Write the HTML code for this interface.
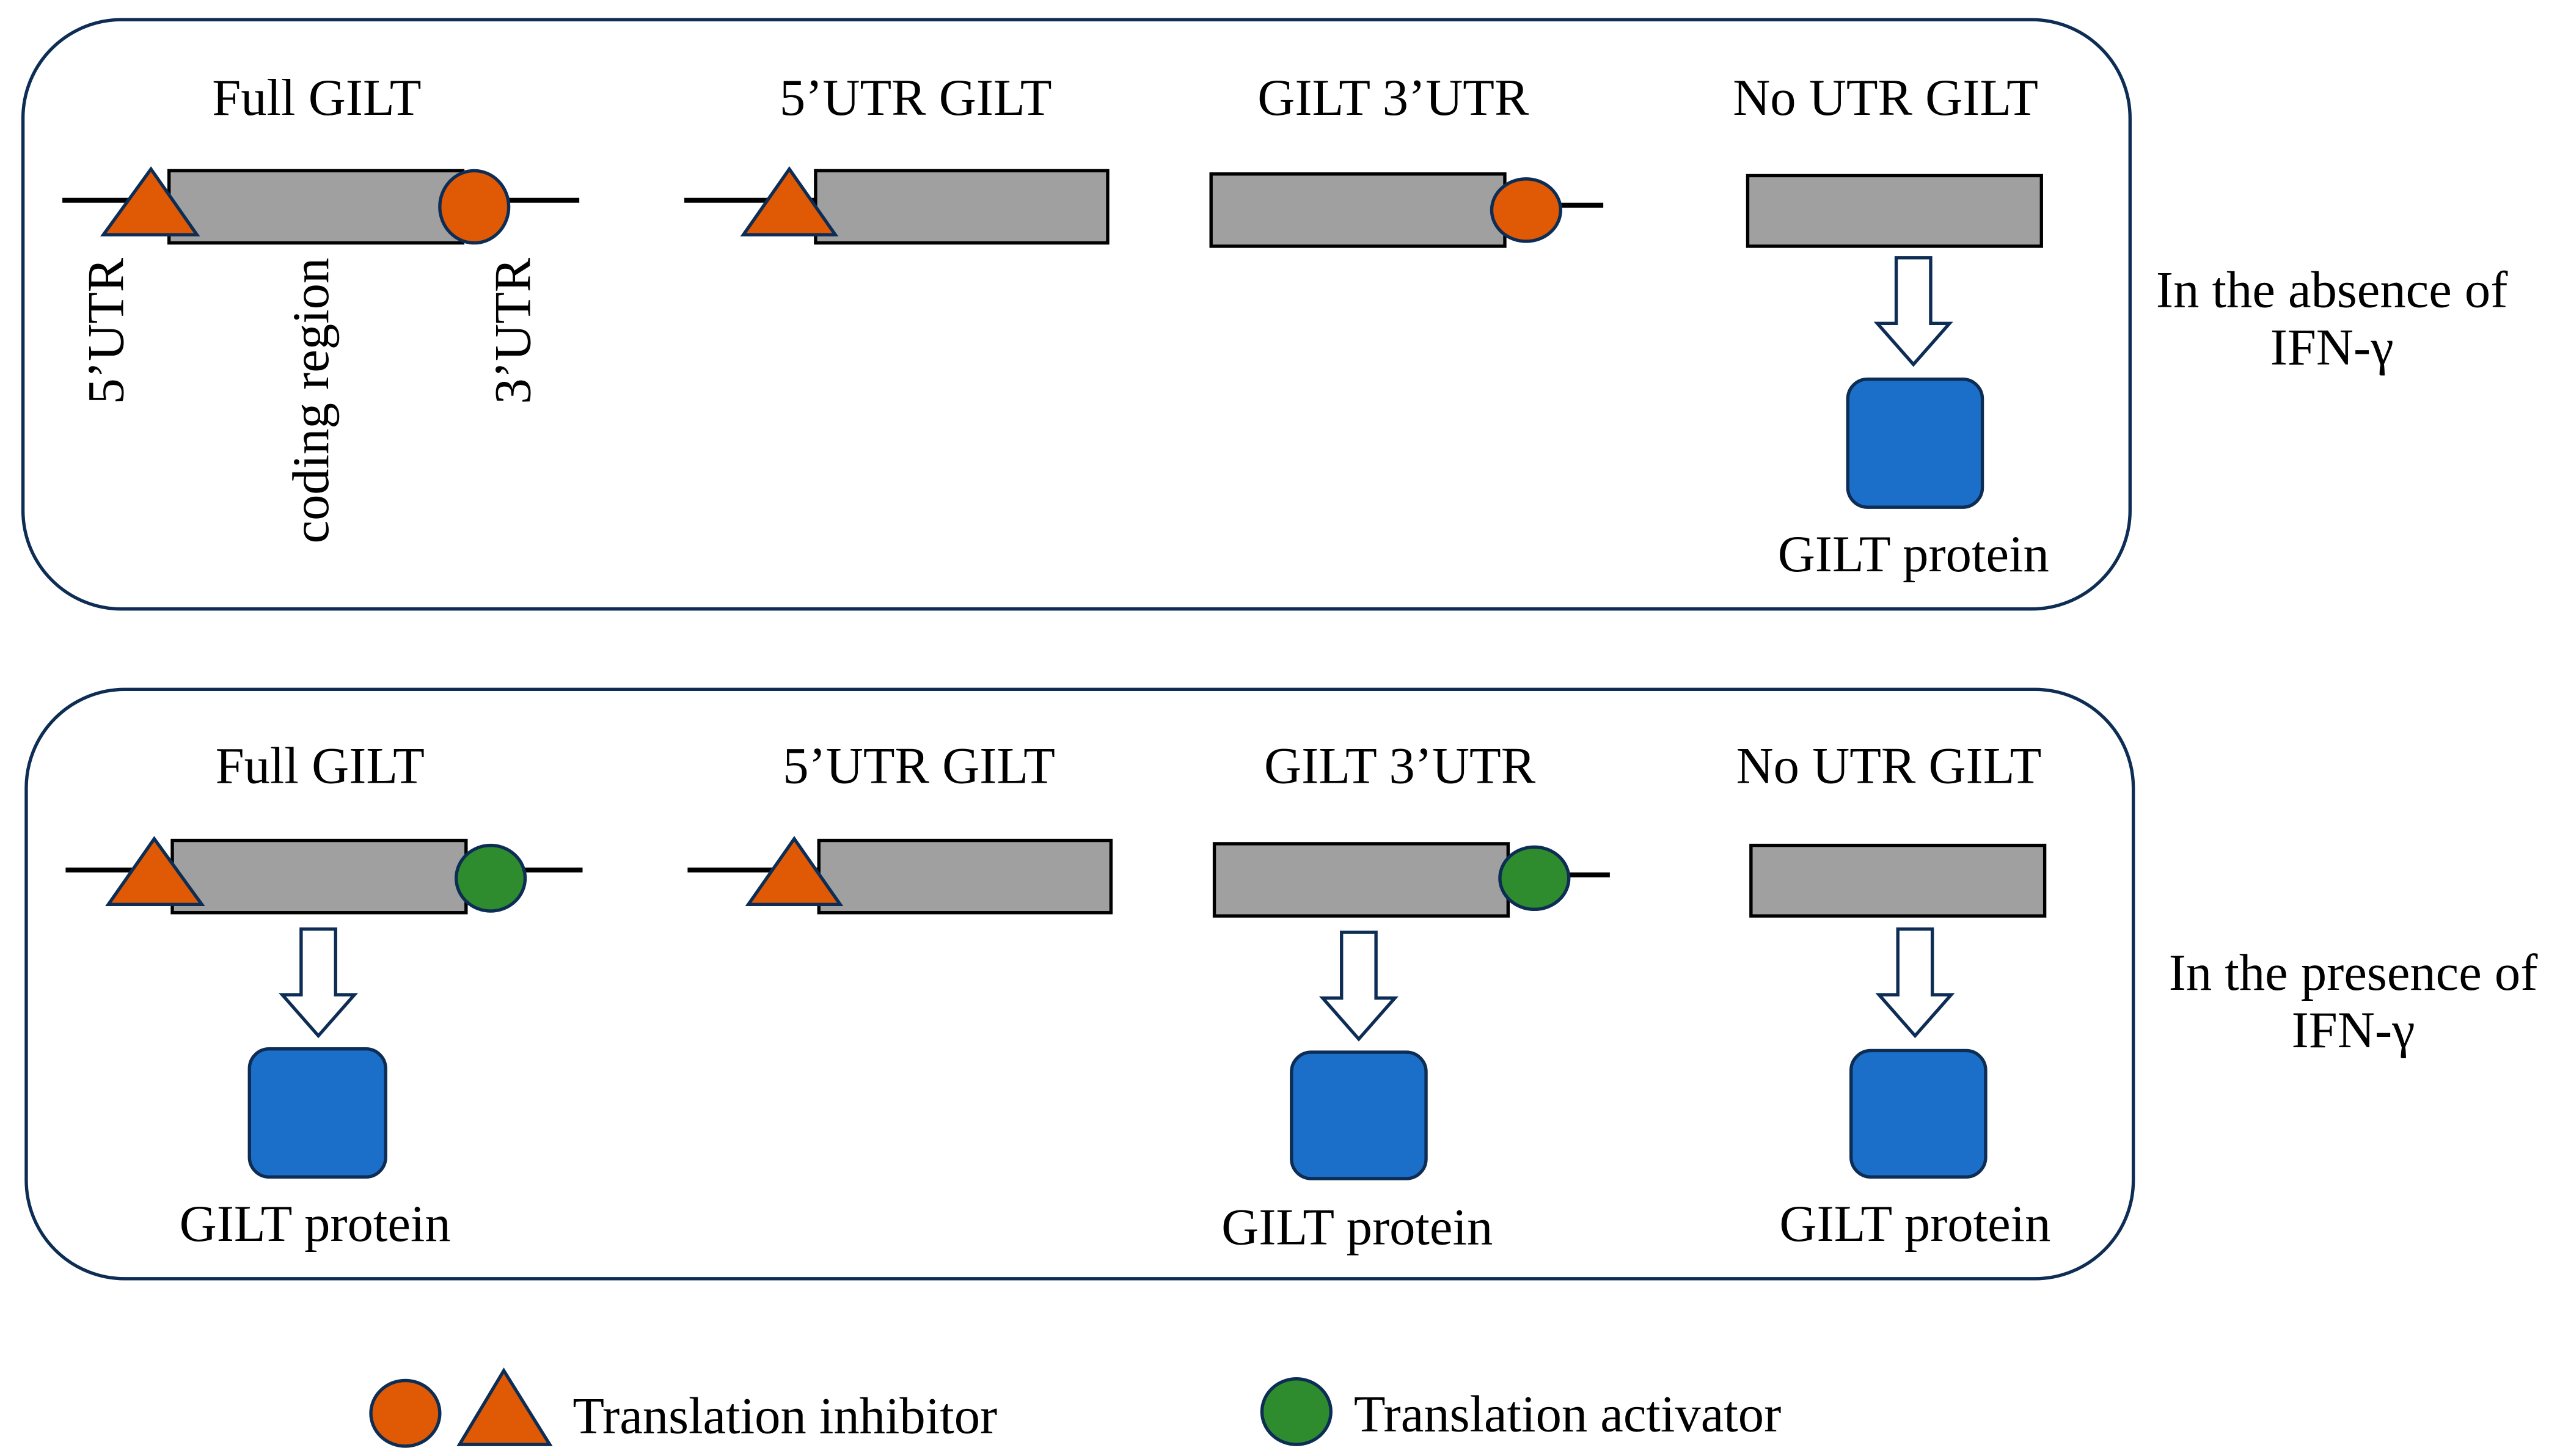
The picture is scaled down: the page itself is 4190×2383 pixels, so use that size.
<!DOCTYPE html>
<html><head><meta charset="utf-8"><style>
html,body{margin:0;padding:0;background:#fff;}
svg{display:block;}
text{font-family:"Liberation Serif",serif;font-size:31.5px;fill:#000;}
</style></head><body>
<svg width="4190" height="2383" viewBox="0 0 1560 887" preserveAspectRatio="none" xmlns="http://www.w3.org/2000/svg">
<defs>
<g id="arrow"><path d="M-10.5,0 H10.5 V40 H22 L0,65 L-22,40 H-10.5 Z" fill="#fff" stroke="#0d2d55" stroke-width="2"/></g>
</defs>
<g stroke="#0d2d55" stroke-width="2" fill="none">
<rect x="14" y="12" width="1284" height="359" rx="60"/>
<rect x="16" y="420" width="1284" height="359" rx="60"/>
</g>
<!-- TOP PANEL -->
<text x="193" y="70" text-anchor="middle">Full GILT</text>
<text x="558" y="70" text-anchor="middle">5’UTR GILT</text>
<text x="849" y="70" text-anchor="middle">GILT 3’UTR</text>
<text x="1149" y="70" text-anchor="middle">No UTR GILT</text>
<line x1="38" y1="122" x2="353" y2="122" stroke="#000" stroke-width="3"/>
<rect x="103" y="104" width="179" height="44" fill="#a0a0a0" stroke="#000" stroke-width="2"/>
<polygon points="92,103 63,143 120,143" fill="#e05a05" stroke="#0d2d55" stroke-width="2"/>
<ellipse cx="289" cy="126" rx="21" ry="22" fill="#e05a05" stroke="#0d2d55" stroke-width="2"/>
<text transform="translate(75,157) rotate(-90)" text-anchor="end">5’UTR</text>
<text transform="translate(200,157) rotate(-90)" text-anchor="end">coding region</text>
<text transform="translate(323,157) rotate(-90)" text-anchor="end">3’UTR</text>
<line x1="417" y1="122" x2="500" y2="122" stroke="#000" stroke-width="3"/>
<rect x="497" y="104" width="178" height="44" fill="#a0a0a0" stroke="#000" stroke-width="2"/>
<polygon points="481,103 453,143 509,143" fill="#e05a05" stroke="#0d2d55" stroke-width="2"/>
<line x1="940" y1="125" x2="977" y2="125" stroke="#000" stroke-width="3"/>
<rect x="738" y="106" width="179" height="44" fill="#a0a0a0" stroke="#000" stroke-width="2"/>
<ellipse cx="930" cy="128" rx="21" ry="19" fill="#e05a05" stroke="#0d2d55" stroke-width="2"/>
<rect x="1065" y="107" width="179" height="43" fill="#a0a0a0" stroke="#000" stroke-width="2"/>
<use href="#arrow" x="1166" y="157"/>
<rect x="1126" y="231" width="82" height="78" rx="12" fill="#1b6fc8" stroke="#0d2d55" stroke-width="2"/>
<text x="1166" y="348" text-anchor="middle">GILT protein</text>
<text x="1421" y="187" text-anchor="middle">In the absence of</text>
<text x="1421" y="222" text-anchor="middle">IFN-γ</text>
<!-- BOTTOM PANEL -->
<text x="195" y="477" text-anchor="middle">Full GILT</text>
<text x="560" y="477" text-anchor="middle">5’UTR GILT</text>
<text x="853" y="477" text-anchor="middle">GILT 3’UTR</text>
<text x="1151" y="477" text-anchor="middle">No UTR GILT</text>
<line x1="40" y1="530" x2="355" y2="530" stroke="#000" stroke-width="3"/>
<rect x="105" y="512" width="179" height="44" fill="#a0a0a0" stroke="#000" stroke-width="2"/>
<polygon points="94,511 66,551 123,551" fill="#e05a05" stroke="#0d2d55" stroke-width="2"/>
<ellipse cx="299" cy="535" rx="21" ry="20" fill="#2e8b2e" stroke="#0d2d55" stroke-width="2"/>
<use href="#arrow" x="194" y="566"/>
<rect x="152" y="639" width="83" height="78" rx="12" fill="#1b6fc8" stroke="#0d2d55" stroke-width="2"/>
<text x="192" y="756" text-anchor="middle">GILT protein</text>
<line x1="419" y1="530" x2="502" y2="530" stroke="#000" stroke-width="3"/>
<rect x="499" y="512" width="178" height="44" fill="#a0a0a0" stroke="#000" stroke-width="2"/>
<polygon points="484,511 456,551 512,551" fill="#e05a05" stroke="#0d2d55" stroke-width="2"/>
<line x1="945" y1="533" x2="981" y2="533" stroke="#000" stroke-width="3"/>
<rect x="740" y="514" width="179" height="44" fill="#a0a0a0" stroke="#000" stroke-width="2"/>
<ellipse cx="935" cy="535" rx="21" ry="19" fill="#2e8b2e" stroke="#0d2d55" stroke-width="2"/>
<use href="#arrow" x="828" y="568"/>
<rect x="787" y="641" width="82" height="77" rx="12" fill="#1b6fc8" stroke="#0d2d55" stroke-width="2"/>
<text x="827" y="758" text-anchor="middle">GILT protein</text>
<rect x="1067" y="515" width="179" height="43" fill="#a0a0a0" stroke="#000" stroke-width="2"/>
<use href="#arrow" x="1167" y="566"/>
<rect x="1128" y="640" width="82" height="77" rx="12" fill="#1b6fc8" stroke="#0d2d55" stroke-width="2"/>
<text x="1167" y="756" text-anchor="middle">GILT protein</text>
<text x="1434" y="603" text-anchor="middle">In the presence of</text>
<text x="1434" y="638" text-anchor="middle">IFN-γ</text>
<!-- LEGEND -->
<ellipse cx="247" cy="861" rx="21" ry="20" fill="#e05a05" stroke="#0d2d55" stroke-width="2"/>
<polygon points="307,835 280,880 335,880" fill="#e05a05" stroke="#0d2d55" stroke-width="2"/>
<text x="349" y="873">Translation inhibitor</text>
<ellipse cx="790" cy="860" rx="21" ry="20" fill="#2e8b2e" stroke="#0d2d55" stroke-width="2"/>
<text x="825" y="872">Translation activator</text>
</svg>
</body></html>
